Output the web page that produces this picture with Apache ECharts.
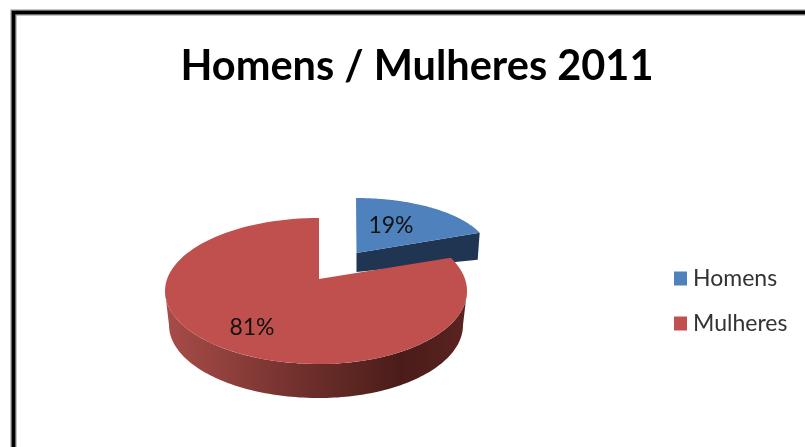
<!DOCTYPE html>
<html><head><meta charset="utf-8">
<style>html,body{margin:0;padding:0;background:#fff}#c{width:805px;height:447px}</style>
<script src="https://cdn.jsdelivr.net/npm/echarts@6/dist/echarts.min.js"></script>
</head><body><div id="c"></div>
<script>
const categories = ['Homens', 'Mulheres'];
const values = [19, 81];
const colors = ['#4f81bd', '#c0504d'];
const titleText = 'Homens / Mulheres 2011';

const total = values[0] + values[1];
const TAU = Math.PI * 2;
const startAngle = [0, values[0] / total * TAU];
const endAngle = [values[0] / total * TAU, TAU];

// Flattened-pie projection (centre, radii, extrusion depth) per slice.
// perspective: small angular shift caused by the 3D view on the slice's first edge.
const shapes = [
  {cx: 356, cy: 253, rx: 133, ry: 55, apexX: 356.5, apexY: 253, label: [391, 226], perspective: 0},
  {cx: 319, cy: 291, rx: 148, rxLeft: 154, ry: 73, apexX: 319, apexY: 279, label: [252, 328], perspective: -0.096,
   baseCy: 325, baseRx: 144, baseRxLeft: 150, baseRy: 73}
];
function pt(s, a, cy, rx, rxLeft, ry) {
  const sn = Math.sin(a);
  const r = sn >= 0 ? (rx || s.rx) : (rxLeft || s.rxLeft || s.rx);
  return [s.cx + r * sn, (cy || s.cy) - (ry || s.ry) * Math.cos(a)];
}
function arc(s, a0, a1, cy, rx, rxLeft, ry) {
  const n = 120, out = [];
  for (let i = 0; i <= n; i++) out.push(pt(s, a0 + (a1 - a0) * i / n, cy, rx, rxLeft, ry));
  return out;
}
function renderSlice(idx) {
  return function (params, api) {
    const s = shapes[idx];
    const a0 = startAngle[idx] + s.perspective, a1 = endAngle[idx];
    const pct = Math.round(api.value(0) / total * 100) + '%';
    const children = [];
    const top = [[s.apexX, s.apexY]].concat(arc(s, a0, a1));
    if (idx === 0) {
      const corner = pt(s, a1);
      children.push({type: 'polygon', shape: {points: [
        [s.apexX, s.apexY], corner, [corner[0] - 2, corner[1] + 27], [s.apexX, s.apexY + 19]
      ]}, style: {fill: '#1f3552'}});
    } else {
      const frontTop = arc(s, Math.PI / 2, Math.PI * 3 / 2);
      const frontBase = arc(s, Math.PI * 3 / 2, Math.PI / 2, s.baseCy, s.baseRx, s.baseRxLeft, s.baseRy);
      children.push({type: 'polygon', shape: {points: frontTop.concat(frontBase)}, style: {
        fill: new echarts.graphic.LinearGradient(1, 0, 0, 0, [
          {offset: 0, color: '#5a2320'},
          {offset: 0.22, color: '#4a1c19'},
          {offset: 0.55, color: '#70302c'},
          {offset: 0.85, color: '#964340'},
          {offset: 1, color: '#a84c48'}
        ])
      }});
    }
    children.push({type: 'polygon', shape: {points: top}, style: {fill: colors[idx]}});
    children.push({type: 'text', style: {
      x: s.label[0], y: s.label[1], text: pct, align: 'center', verticalAlign: 'middle',
      fill: '#111', font: '23px Lato'
    }, z2: 10});
    return {type: 'group', children: children};
  };
}

const chart = echarts.init(document.getElementById('c'), null, {renderer: 'canvas'});
chart.setOption({
  animation: false,
  backgroundColor: '#fff',
  title: {
    text: titleText, left: 412, top: 41, textAlign: 'center',
    textStyle: {fontFamily: 'Lato', fontWeight: 'bold', fontSize: 41.5, color: '#000'}
  },
  legend: {
    orient: 'vertical', left: 669, top: 262, itemWidth: 13, itemHeight: 14, itemGap: 22,
    icon: 'rect', data: categories,
    textStyle: {fontFamily: 'Lato', fontSize: 23, color: '#333', padding: [0, 0, 0, 1]}
  },
  graphic: [
    {type: 'rect', shape: {x: 13.5, y: 12.5, width: 900, height: 600}, style: {fill: 'none', stroke: '#8c8c8c', lineWidth: 6}, z: -2},
    {type: 'rect', shape: {x: 13.5, y: 12.5, width: 900, height: 600}, style: {fill: 'none', stroke: '#000', lineWidth: 3.5}, z: -1}
  ],
  series: [
    {type: 'custom', name: categories[0], coordinateSystem: 'none', renderItem: renderSlice(0), data: [[values[0]]], itemStyle: {color: colors[0]}, z: 2},
    {type: 'custom', name: categories[1], coordinateSystem: 'none', renderItem: renderSlice(1), data: [[values[1]]], itemStyle: {color: colors[1]}, z: 3}
  ]
});
</script></body></html>
